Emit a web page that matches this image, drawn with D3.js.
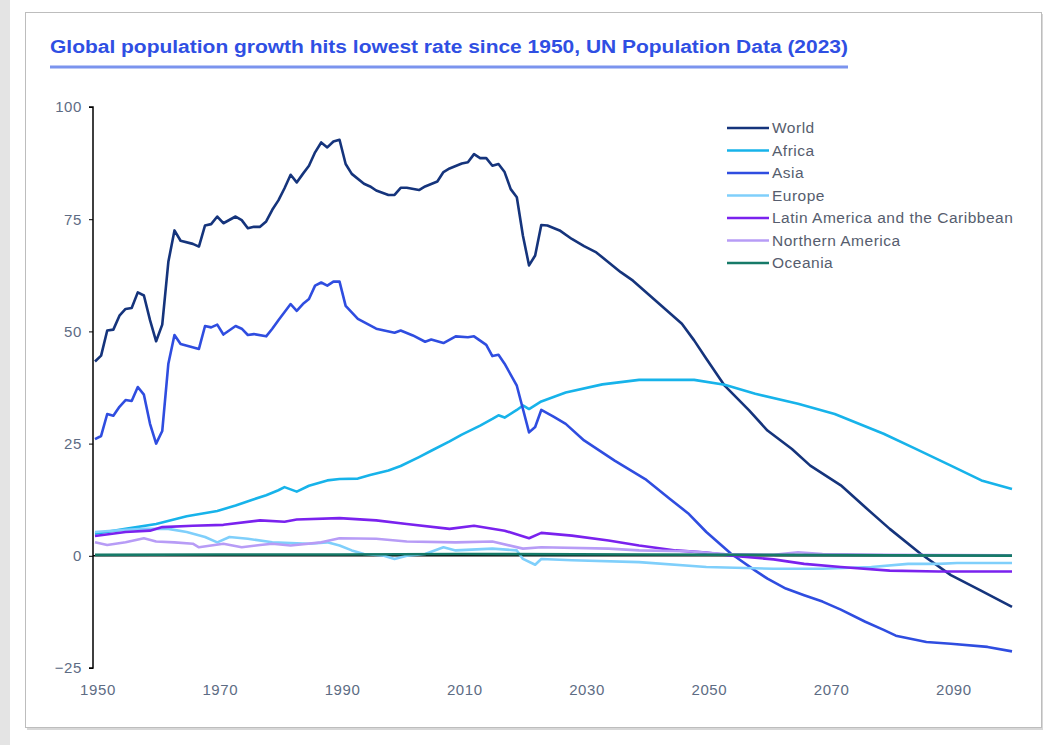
<!DOCTYPE html>
<html>
<head>
<meta charset="utf-8">
<script src="https://cdn.jsdelivr.net/npm/d3@7"></script>
<style>
  body { margin: 0; background: #fff; }
  svg { display: block; }
</style>
</head>
<body>
<div id="chart"></div>
<script>
// values (year, millions per year)
const world = [[1950,43.3],[1951,44.6],[1952,50.2],[1953,50.4],[1954,53.5],[1955,55],[1956,55.2],[1957,58.7],[1958,58],[1959,52.5],[1960,47.8],[1961,51.5],[1962,65.5],[1963,72.5],[1964,70.2],[1966,69.5],[1967,68.9],[1968,73.6],[1969,73.9],[1970,75.6],[1971,74.1],[1973,75.6],[1974,74.8],[1975,73],[1976,73.3],[1977,73.3],[1978,74.5],[1979,77.1],[1980,79.2],[1981,81.9],[1982,84.9],[1983,83.2],[1984,85.1],[1985,86.9],[1986,89.9],[1987,92.1],[1988,91],[1989,92.3],[1990,92.7],[1991,87.3],[1992,85.1],[1994,82.9],[1995,82.3],[1996,81.4],[1998,80.4],[1999,80.4],[2000,82],[2001,82],[2003,81.5],[2004,82.3],[2006,83.4],[2007,85.5],[2008,86.3],[2010,87.4],[2011,87.7],[2012,89.5],[2013,88.6],[2014,88.6],[2015,86.9],[2016,87.3],[2017,85.5],[2018,81.7],[2019,79.9],[2020,71.3],[2021,64.7],[2022,66.9],[2023,73.7],[2024,73.6],[2026,72.5],[2028,70.6],[2030,69],[2032,67.6],[2036,63.2],[2038,61.3],[2042,56.5],[2046,51.7],[2048,48],[2050,43.9],[2053,37.9],[2057,32.4],[2060,27.9],[2064,23.8],[2067,20.1],[2072,15.7],[2076,10.8],[2080,6],[2085,0.5],[2090,-4.3],[2095,-7.8],[2100,-11.4]];
const africa = [[1950,4.9],[1955,6],[1960,7.1],[1965,8.8],[1970,10],[1973,11.2],[1976,12.6],[1978,13.5],[1980,14.6],[1981,15.3],[1983,14.3],[1985,15.6],[1986,16],[1988,16.8],[1990,17.1],[1993,17.2],[1995,18],[1998,19],[2000,20],[2003,22],[2005,23.4],[2008,25.5],[2010,27],[2013,29],[2015,30.5],[2016,31.3],[2017,30.8],[2019,32.5],[2020,33.5],[2021,32.7],[2023,34.4],[2027,36.4],[2033,38.2],[2039,39.2],[2048,39.2],[2053,38.1],[2058,36.1],[2065,33.9],[2071,31.6],[2079,27.2],[2084,24],[2090,20.1],[2095,16.8],[2100,14.9]];
const asia = [[1950,26],[1951,26.7],[1952,31.6],[1953,31.2],[1954,33.2],[1955,34.7],[1956,34.5],[1957,37.6],[1958,35.9],[1959,29.4],[1960,25],[1961,27.8],[1962,42.8],[1963,49.2],[1964,47.2],[1967,46.1],[1968,51.2],[1969,50.9],[1970,51.5],[1971,49.3],[1973,51.2],[1974,50.6],[1975,49.2],[1976,49.4],[1978,48.9],[1979,50.6],[1980,52.5],[1982,56.1],[1983,54.6],[1984,56.1],[1985,57.2],[1986,60.2],[1987,60.9],[1988,60.2],[1989,61.1],[1990,61.1],[1991,55.7],[1993,52.8],[1996,50.6],[1999,49.7],[2000,50.2],[2002,49.1],[2004,47.7],[2005,48.2],[2007,47.4],[2009,48.9],[2011,48.7],[2012,48.9],[2014,47],[2015,44.5],[2016,44.8],[2017,42.8],[2019,37.9],[2020,32.7],[2021,27.5],[2022,28.7],[2023,32.5],[2025,31],[2027,29.4],[2030,25.7],[2035,21.2],[2040,17.1],[2044,12.7],[2047,9.5],[2050,5.3],[2054,0.5],[2058,-3.3],[2060,-5.1],[2063,-7.3],[2066,-8.8],[2069,-10.2],[2072,-12],[2076,-14.7],[2079,-16.5],[2081,-17.8],[2086,-19.2],[2090,-19.6],[2096,-20.3],[2100,-21.3]];
const europe = [[1950,5.3],[1955,5.8],[1958,6],[1962,6],[1965,5.3],[1968,4.2],[1970,3],[1972,4.2],[1975,3.8],[1979,3],[1985,2.7],[1988,3],[1990,2.3],[1992,1.2],[1994,0.4],[1997,0.1],[1999,-0.7],[2001,0],[2004,0.4],[2007,1.9],[2009,1.2],[2015,1.6],[2019,1.2],[2020,-0.7],[2022,-2],[2023,-0.7],[2028,-1],[2039,-1.4],[2050,-2.5],[2061,-2.9],[2069,-2.9],[2077,-2.5],[2083,-1.8],[2088,-1.8],[2091,-1.6],[2100,-1.6]];
const latam = [[1950,4.4],[1955,5.3],[1959,5.6],[1961,6.4],[1966,6.7],[1971,6.9],[1977,7.9],[1981,7.6],[1983,8.1],[1990,8.4],[1996,7.9],[2001,7.1],[2008,6],[2012,6.7],[2017,5.6],[2021,3.9],[2023,5.1],[2028,4.5],[2034,3.4],[2039,2.3],[2045,1.2],[2050,0.7],[2055,-0.1],[2061,-0.8],[2066,-1.8],[2072,-2.5],[2080,-3.3],[2088,-3.5],[2100,-3.5]];
const northam = [[1950,3],[1952,2.4],[1955,3],[1958,3.9],[1960,3.2],[1963,3],[1966,2.7],[1967,1.9],[1971,2.7],[1974,1.9],[1977,2.4],[1979,2.7],[1982,2.3],[1987,3],[1990,3.9],[1996,3.8],[2001,3.2],[2009,3],[2015,3.2],[2020,1.6],[2023,1.9],[2034,1.6],[2039,1.2],[2047,1],[2053,0.4],[2061,0.2],[2065,0.8],[2069,0.4],[2080,0.2],[2100,0.1]];
const oceania = [[1950,0.2],[1970,0.3],[1990,0.3],[2010,0.4],[2040,0.3],[2060,0.2],[2080,0.1],[2100,0.05]];

const seriesNames = ["World", "Africa", "Asia", "Europe", "Latin America and the Caribbean", "Northern America", "Oceania"];
const seriesData = [world, africa, asia, europe, latam, northam, oceania];
const seriesColors = ["#15347c", "#17b3ea", "#2f4de0", "#7fcffb", "#7a22ee", "#b79cf6", "#167a68"];

const yTicks = [-25, 0, 25, 50, 75, 100];
const xTicks = [1950, 1970, 1990, 2010, 2030, 2050, 2070, 2090];
const title = "Global population growth hits lowest rate since 1950, UN Population Data (2023)";

const W = 1059, H = 745;
const svg = d3.select("#chart").append("svg").attr("width", W).attr("height", H);

// page strip and card
svg.append("rect").attr("x", 0).attr("y", 0).attr("width", 10).attr("height", H).attr("fill", "#e4e4e4");
svg.append("rect").attr("x", 27).attr("y", 14).attr("width", 1016).attr("height", 716).attr("fill", "#d8d8d8");
svg.append("rect").attr("x", 25.5).attr("y", 12.5).attr("width", 1016).attr("height", 715)
    .attr("fill", "#fff").attr("stroke", "#bdbdbd").attr("stroke-width", 1);

// title
svg.append("text")
    .attr("x", 50).attr("y", 53)
    .attr("textLength", 798).attr("lengthAdjust", "spacingAndGlyphs")
    .attr("font-family", "Liberation Sans Narrow, Liberation Sans, Arial, sans-serif")
    .attr("font-weight", "bold").attr("font-size", 18)
    .attr("fill", "#2f4fe3")
    .text(title);
svg.append("line").attr("x1", 50).attr("x2", 848).attr("y1", 67).attr("y2", 67)
    .attr("stroke", "#7b94ee").attr("stroke-width", 3);

const x = d3.scaleLinear().domain([1950, 2100]).range([95, 1012]);
const y = d3.scaleLinear().domain([-25, 100]).range([668, 107]);

const labelFont = "Liberation Sans, Arial, sans-serif";
const labelColor = "#5d6c84";

// y axis
const yAxis = svg.append("g").attr("transform", "translate(93,0)")
    .call(d3.axisLeft(y).tickValues(yTicks).tickSize(4).tickPadding(7));
yAxis.select(".domain").attr("stroke", "#000").attr("stroke-width", 1.5).attr("d", `M-4,${y(100)}H0V${y(-25)}H-4`);
yAxis.selectAll(".tick line").attr("stroke", "#000");
yAxis.selectAll(".tick text").attr("font-family", labelFont).attr("font-size", 15).attr("fill", labelColor)
    .attr("letter-spacing", 0.6);

// x tick labels only (no axis line)
svg.append("g").selectAll("text").data(xTicks).join("text")
    .attr("x", d => x(d) + 3).attr("y", 695)
    .attr("text-anchor", "middle")
    .attr("font-family", labelFont).attr("font-size", 15).attr("fill", labelColor)
    .attr("letter-spacing", 0.6)
    .text(d => d);

// zero line
svg.append("line").attr("x1", 93).attr("x2", x(2100)).attr("y1", y(0)).attr("y2", y(0))
    .attr("stroke", "#000").attr("stroke-width", 1.5);

const line = d3.line().x(d => x(d[0])).y(d => y(d[1]));

svg.append("g").selectAll("path").data(seriesData).join("path")
    .attr("d", line)
    .attr("fill", "none")
    .attr("stroke", (d, i) => seriesColors[i])
    .attr("stroke-width", 2.6)
    .attr("stroke-linejoin", "round");

// legend
const legend = svg.append("g").attr("transform", "translate(727,128)");
const item = legend.selectAll("g").data(seriesNames).join("g")
    .attr("transform", (d, i) => `translate(0,${i * 22.5})`);
item.append("line").attr("x1", 0).attr("x2", 42).attr("y1", 0).attr("y2", 0)
    .attr("stroke", (d, i) => seriesColors[i]).attr("stroke-width", 2.6);
item.append("text").attr("x", 45).attr("y", 5)
    .attr("font-family", labelFont).attr("font-size", 15.5).attr("fill", "#565d6e")
    .attr("letter-spacing", 0.5)
    .text(d => d);
</script>
</body>
</html>
